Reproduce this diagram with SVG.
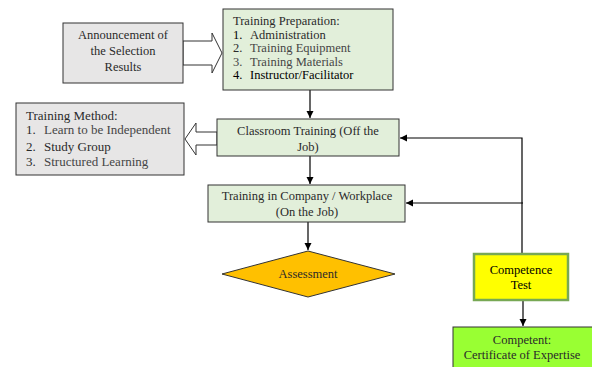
<svg xmlns="http://www.w3.org/2000/svg" width="592" height="367" viewBox="0 0 592 367">
<defs>
<marker id="ah" markerWidth="8" markerHeight="8" refX="7" refY="4" orient="auto" markerUnits="userSpaceOnUse">
<path d="M0,0.5 L7,4 L0,7.5 Z" fill="#000"/>
</marker>
<style>
text{font-family:"Liberation Serif","Times New Roman",serif;font-size:12.5px;fill:#2a2a2a}
.c{text-anchor:middle}
.gray{fill:#e7e6e6;stroke:#333;stroke-width:1}
.lg{fill:#e2efda;stroke:#333;stroke-width:1}
.ln{stroke:#000;stroke-width:1.2;fill:none}
.blk{fill:#fff;stroke:#333;stroke-width:1}
.g2{fill:#454545}
.k{fill:#000}
.m{font-size:13px}
</style>
</defs>
<g id="connectors">
<path class="blk" d="M183,41 L212,41 L212,33 L222,53 L212,73 L212,65 L183,65 Z"/>
<path class="blk" d="M217,132 L196,132 L196,123 L185,139 L196,155 L196,145 L217,145 Z"/>
<line class="ln" x1="310" y1="90" x2="310" y2="118" marker-end="url(#ah)"/>
<line class="ln" x1="310" y1="156" x2="310" y2="184" marker-end="url(#ah)"/>
<line class="ln" x1="308" y1="222" x2="308" y2="250" marker-end="url(#ah)"/>
<polyline class="ln" points="522,254 522,138 400,138" marker-end="url(#ah)"/>
<line class="ln" x1="523" y1="203" x2="406" y2="203" marker-end="url(#ah)"/>
<line class="ln" x1="523" y1="300" x2="523" y2="326" marker-end="url(#ah)"/>
</g>
<g id="announcement">
<rect class="gray" x="63" y="23" width="120" height="60"/>
<text class="c" x="123" y="39">Announcement of</text>
<text class="c" x="123" y="55">the Selection</text>
<text class="c" x="123" y="71">Results</text>
</g>
<g id="preparation">
<rect class="lg" x="223" y="9" width="170" height="81"/>
<text x="233" y="25">Training Preparation:</text>
<text x="233" y="39" class="k">1.</text><text x="250" y="39">Administration</text>
<text x="233" y="52">2.</text><text x="250" y="52" class="g2">Training Equipment</text>
<text x="233" y="66" class="g2">3.</text><text x="250" y="66" class="g2">Training Materials</text>
<text x="233" y="79" class="k">4.</text><text x="250" y="79" class="k">Instructor/Facilitator</text>
</g>
<g id="method">
<rect class="gray" x="16" y="103" width="168" height="72"/>
<text x="26" y="120" class="m">Training Method:</text>
<text x="26" y="134" class="m">1.</text><text x="44" y="134" class="g2 m">Learn to be Independent</text>
<text x="26" y="151" class="m">2.</text><text x="44" y="151" class="m">Study Group</text>
<text x="26" y="166" class="m">3.</text><text x="44" y="166" class="g2 m">Structured Learning</text>
</g>
<g id="classroom">
<rect class="lg" x="217" y="119" width="182" height="37"/>
<text class="c" x="308" y="135">Classroom Training (Off the</text>
<text class="c" x="308" y="151">Job)</text>
</g>
<g id="company">
<rect class="lg" x="208" y="185" width="197" height="37"/>
<text class="c" x="307" y="200">Training in Company / Workplace</text>
<text class="c" x="307" y="216">(On the Job)</text>
</g>
<g id="assessment">
<polygon points="308,251 395,274 308,297 222,274" fill="#ffc000" stroke="#333" stroke-width="1"/>
<text class="c" x="308" y="278">Assessment</text>
</g>
<g id="competence">
<rect x="474" y="254" width="94" height="46" fill="#ffff00" stroke="#77a854" stroke-width="2.5"/>
<text class="c k" x="521" y="274">Competence</text>
<text class="c k" x="521" y="289">Test</text>
</g>
<g id="competent">
<rect x="453" y="327" width="140" height="45" fill="#99ff33" stroke="#333" stroke-width="1"/>
<text class="c" x="522" y="344">Competent:</text>
<text class="c" x="522" y="359">Certificate of Expertise</text>
</g>
</svg>
